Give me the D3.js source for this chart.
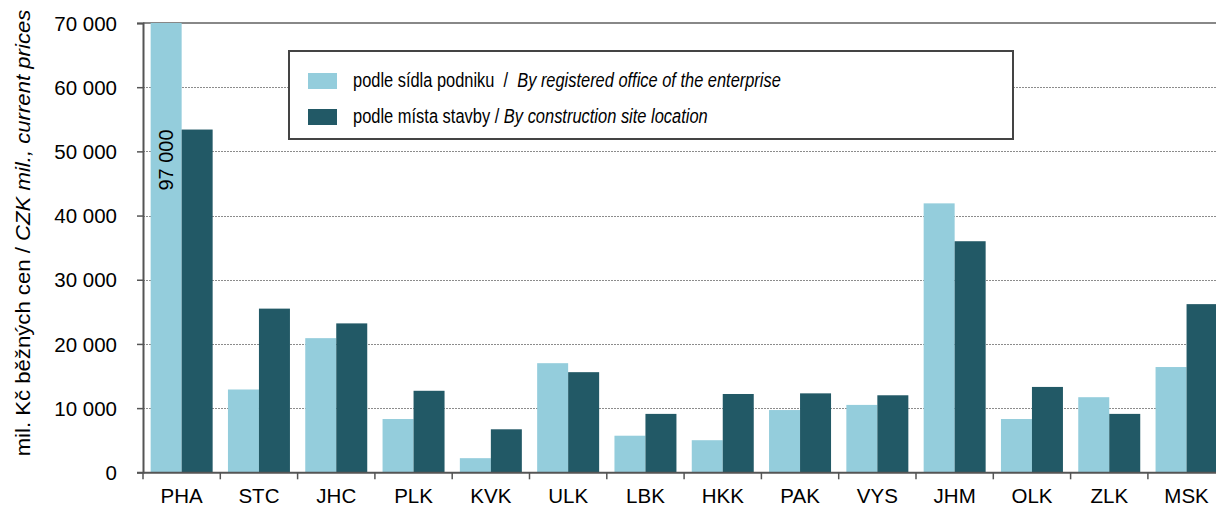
<!DOCTYPE html>
<html>
<head>
<meta charset="utf-8">
<script src="https://cdn.jsdelivr.net/npm/d3@7"></script>
<style>
  body { margin: 0; background: #fff; }
  svg { font-family: "Liberation Sans", Arial, sans-serif; }
</style>
</head>
<body>
<div id="chart"></div>
<script>
// regions and values (mil. Kč)
const regions = ["PHA", "STC", "JHC", "PLK", "KVK", "ULK", "LBK", "HKK", "PAK", "VYS", "JHM", "OLK", "ZLK", "MSK"];
const byOffice = [97000, 12900, 20900, 8300, 2200, 17000, 5700, 5000, 9700, 10500, 41900, 8300, 11700, 16400];
const bySite = [53400, 25500, 23200, 12700, 6700, 15600, 9100, 12200, 12300, 12000, 36000, 13300, 9100, 26200];
const seriesKeys = ["office", "site"];
const seriesNames = [
  ["podle sídla podniku  /  ", "By registered office of the enterprise"],
  ["podle místa stavby / ", "By construction site location"]
];
const yTicks = [0, 10000, 20000, 30000, 40000, 50000, 60000, 70000];
const yMax = 70000;

const colors = {office: "#94cddc", site: "#225966"};

var width = 1216, height = 506;
var margin = {top: 23, left: 143, bottom: 34};
var plotRight = 143 + 14 * 77.3;

var svg = d3.select("#chart").append("svg")
  .attr("width", width).attr("height", height);

var y = d3.scaleLinear().domain([0, yMax]).range([height - margin.bottom + 0.3, margin.top]);
var x = d3.scaleBand().domain(regions).range([margin.left, plotRight]).paddingInner(0).paddingOuter(0);
var xs = d3.scaleBand().domain(seriesKeys).range([0, x.bandwidth()]).paddingInner(0).paddingOuter(0.247);

var fmt = d3.formatLocale({decimal: ",", thousands: " ", grouping: [3], currency: ["", ""]}).format(",");

// squeeze or stretch a text along its direction so it is `target` px long
function fitText(t, target, base) {
  var len = t.node().getComputedTextLength();
  t.attr("transform", base + " scale(" + (target / len) + ",1)");
}

// gridlines
svg.append("g").selectAll("line")
  .data(yTicks.filter(d => d > 0 && d < yMax))
  .enter().append("line")
  .attr("x1", margin.left).attr("x2", plotRight)
  .attr("y1", d => Math.round(y(d)) + 0.5).attr("y2", d => Math.round(y(d)) + 0.5)
  .attr("stroke", "#8c8c8c").attr("stroke-width", 1)
  .attr("stroke-dasharray", "2,1");

// top border
svg.append("line")
  .attr("x1", margin.left).attr("x2", plotRight)
  .attr("y1", y(yMax)).attr("y2", y(yMax))
  .attr("stroke", "#606060").attr("stroke-width", 1.5);

var data = regions.map((r, i) => ({region: r, office: byOffice[i], site: bySite[i]}));

// bars
var groups = svg.append("g").selectAll("g")
  .data(data).enter().append("g")
  .attr("transform", d => "translate(" + x(d.region) + ",0)");

groups.selectAll("rect")
  .data(d => seriesKeys.map(k => ({key: k, value: d[k]})))
  .enter().append("rect")
  .attr("x", d => xs(d.key))
  .attr("width", xs.bandwidth())
  .attr("y", d => y(Math.min(d.value, yMax)))
  .attr("height", d => y(0) - y(Math.min(d.value, yMax)))
  .attr("fill", d => colors[d.key]);

// label for clipped PHA bar
var pha = data[0];
svg.append("text")
  .attr("transform", "translate(" + (x("PHA") + xs("office") + xs.bandwidth() / 2 + 7) + "," + 160 + ") rotate(-90)")
  .attr("text-anchor", "middle")
  .style("font-size", "20px")
  .attr("fill", "#000")
  .text(fmt(pha.office));

// Y axis
var yAxis = svg.append("g")
  .attr("transform", "translate(" + margin.left + ",0)")
  .call(d3.axisLeft(y).tickValues(yTicks).tickFormat(fmt).tickSize(6).tickPadding(20));
yAxis.select(".domain").attr("stroke", "#555").attr("stroke-width", 2);
yAxis.selectAll(".tick line").attr("stroke", "#555").attr("stroke-width", 1.5);
yAxis.selectAll(".tick text").style("font-size", "20.5px").attr("fill", "#000")
  .attr("font-family", "Liberation Sans, Arial, sans-serif").attr("dy", "0.35em");

// X axis
var xAxis = svg.append("g")
  .attr("transform", "translate(0," + y(0) + ")")
  .call(d3.axisBottom(x).tickSize(0).tickPadding(16));
xAxis.select(".domain").attr("stroke", "#555").attr("stroke-width", 2);
xAxis.selectAll(".tick text").style("font-size", "20.5px").attr("fill", "#000")
  .attr("font-family", "Liberation Sans, Arial, sans-serif");
// category separators
svg.append("g").selectAll("line")
  .data(regions.concat(["end"]))
  .enter().append("line")
  .attr("x1", (d, i) => margin.left + i * x.step())
  .attr("x2", (d, i) => margin.left + i * x.step())
  .attr("y1", y(0)).attr("y2", y(0) + 7)
  .attr("stroke", "#555").attr("stroke-width", 1.5);

// Y axis title
var yTitle = svg.append("text")
  .attr("text-anchor", "middle")
  .style("font-size", "19.5px")
  .attr("fill", "#000");
yTitle.append("tspan").text("mil. Kč běžných cen / ");
yTitle.append("tspan").style("font-style", "italic").text("CZK mil., current prices");
fitText(yTitle, 447, "translate(30,233) rotate(-90)");

// legend
var legend = svg.append("g");
legend.append("rect")
  .attr("x", 289).attr("y", 51).attr("width", 724).attr("height", 88)
  .attr("fill", "#fff").attr("stroke", "#444").attr("stroke-width", 2);

var legendRows = [
  {key: "office", y: 73, names: seriesNames[0], len: 428},
  {key: "site", y: 109, names: seriesNames[1], len: 355}
];
legendRows.forEach(r => {
  legend.append("rect")
    .attr("x", 308).attr("y", r.y).attr("width", 29).attr("height", 16)
    .attr("fill", colors[r.key]);
  var t = legend.append("text")
    .style("font-size", "19.5px")
    .style("white-space", "pre")
    .attr("fill", "#000");
  t.append("tspan").text(r.names[0]);
  t.append("tspan").style("font-style", "italic").text(r.names[1]);
  fitText(t, r.len, "translate(353," + (r.y + 14) + ")");
});
</script>
</body>
</html>
